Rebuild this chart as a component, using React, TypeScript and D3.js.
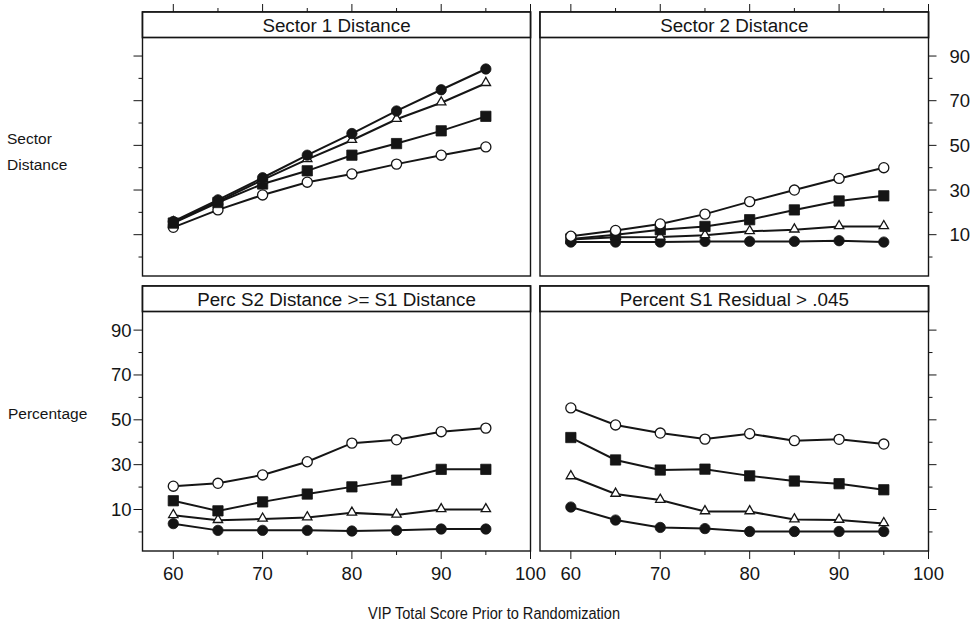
import * as d3 from 'd3'

const scores = [60, 65, 70, 75, 80, 85, 90, 95]

// Sector 1 Distance
const s1Dot = [15.9, 25.6, 35.5, 45.6, 55.3, 65.4, 74.9, 84.2]
const s1Tri = [15.5, 24.8, 34.5, 43.7, 52.3, 61.7, 69.1, 77.8]
const s1Square = [15.2, 24.4, 32.7, 38.6, 45.6, 50.8, 56.5, 63.0]
const s1Ring = [13.3, 21.1, 27.8, 33.5, 37.2, 41.6, 45.6, 49.3]

// Sector 2 Distance
const s2Dot = [6.7, 6.7, 6.7, 7.0, 7.0, 7.0, 7.3, 6.7]
const s2Tri = [7.8, 8.9, 9.0, 9.7, 11.5, 12.2, 13.7, 13.7]
const s2Square = [8.1, 10.0, 12.2, 13.7, 16.7, 21.1, 25.1, 27.4]
const s2Ring = [9.3, 11.9, 14.8, 19.2, 24.8, 30.0, 35.2, 40.0]

// Perc S2 Distance >= S1 Distance
const percDot = [3.7, 0.7, 0.7, 0.7, 0.4, 0.7, 1.3, 1.3]
const percTri = [7.4, 5.2, 5.8, 6.4, 8.5, 7.6, 10.0, 10.0]
const percSquare = [13.9, 9.4, 13.4, 16.9, 20.1, 23.1, 27.9, 27.9]
const percRing = [20.4, 21.7, 25.4, 31.3, 39.6, 41.1, 44.7, 46.3]

// Percent S1 Residual > .045
const residDot = [11.1, 5.3, 2.0, 1.5, 0.2, 0.2, 0.2, 0.2]
const residTri = [24.7, 16.9, 14.2, 9.1, 9.1, 5.5, 5.3, 3.8]
const residSquare = [42.1, 32.1, 27.6, 28.0, 25.0, 22.7, 21.5, 18.8]
const residRing = [55.3, 47.7, 44.1, 41.4, 43.8, 40.7, 41.3, 39.2]

const titles = [
  'Sector 1 Distance',
  'Sector 2 Distance',
  'Perc S2 Distance >= S1 Distance',
  'Percent S1 Residual > .045'
]

const xMajor = [60, 70, 80, 90, 100]
const xMinor = [65, 75, 85, 95]
const yMajor = [10, 30, 50, 70, 90]
const yMinor = [0, 20, 40, 60, 80]

const FONT = '"Liberation Sans", Arial, Helvetica, sans-serif'
const INK = '#151515'

// panel frame positions
const COLS = [[142.5, 530.5], [540, 928.5]]
const ROWS = [
  { top: 12, strip: 37.5, bottom: 276 },
  { top: 286, strip: 311.5, bottom: 551 }
]

type Marker = 'dot' | 'tri' | 'square' | 'ring'

const panelData: { values: number[]; marker: Marker }[][] = [
  [
    { values: s1Ring, marker: 'ring' },
    { values: s1Square, marker: 'square' },
    { values: s1Tri, marker: 'tri' },
    { values: s1Dot, marker: 'dot' }
  ],
  [
    { values: s2Dot, marker: 'dot' },
    { values: s2Tri, marker: 'tri' },
    { values: s2Square, marker: 'square' },
    { values: s2Ring, marker: 'ring' }
  ],
  [
    { values: percDot, marker: 'dot' },
    { values: percTri, marker: 'tri' },
    { values: percSquare, marker: 'square' },
    { values: percRing, marker: 'ring' }
  ],
  [
    { values: residDot, marker: 'dot' },
    { values: residTri, marker: 'tri' },
    { values: residSquare, marker: 'square' },
    { values: residRing, marker: 'ring' }
  ]
]

const symbolPath = {
  dot: d3.symbol(d3.symbolCircle, 84)(),
  ring: d3.symbol(d3.symbolCircle, 80)(),
  square: d3.symbol(d3.symbolSquare, 106)(),
  tri: d3.symbol(d3.symbolTriangle, 38)()
}

function Panel({ idx }: { idx: number }) {
  const col = idx % 2
  const row = Math.floor(idx / 2)
  const [x0, x1] = COLS[col]
  const { top, strip, bottom } = ROWS[row]

  const x = d3.scaleLinear().domain([56.55, 100]).range([x0, x1])
  const y = d3.scaleLinear().domain([-8.5, 98.3]).range([bottom, strip])
  const line = d3.line<number>()
    .x((_, i) => x(scores[i]))
    .y(d => y(d))

  const major = 8
  const minor = 4

  return (
    <g>
      {/* top ticks (top row) */}
      {row === 0 && xMajor.map(t => (
        <line key={`tM${t}`} x1={x(t)} x2={x(t)} y1={top} y2={top - major} stroke={INK} strokeWidth={1} />
      ))}
      {row === 0 && xMinor.map(t => (
        <line key={`tm${t}`} x1={x(t)} x2={x(t)} y1={top} y2={top - minor} stroke={INK} strokeWidth={1} />
      ))}

      {/* bottom ticks + labels (bottom row) */}
      {row === 1 && xMajor.map(t => (
        <g key={`bM${t}`}>
          <line x1={x(t)} x2={x(t)} y1={bottom} y2={bottom + major} stroke={INK} strokeWidth={1} />
          <text x={x(t)} y={bottom + 29} textAnchor="middle" fontSize={18.5} fontFamily={FONT} fill={INK}>{t}</text>
        </g>
      ))}
      {row === 1 && xMinor.map(t => (
        <line key={`bm${t}`} x1={x(t)} x2={x(t)} y1={bottom} y2={bottom + minor} stroke={INK} strokeWidth={1} />
      ))}

      {/* left ticks (left column), labels only on bottom row */}
      {col === 0 && yMajor.map(t => (
        <g key={`lM${t}`}>
          <line x1={x0} x2={x0 - 9} y1={y(t)} y2={y(t)} stroke={INK} strokeWidth={1} />
          {row === 1 && (
            <text x={x0 - 11} y={y(t) + 6.5} textAnchor="end" fontSize={18.5} fontFamily={FONT} fill={INK}>{t}</text>
          )}
        </g>
      ))}
      {col === 0 && yMinor.map(t => (
        <line key={`lm${t}`} x1={x0} x2={x0 - minor} y1={y(t)} y2={y(t)} stroke={INK} strokeWidth={1} />
      ))}

      {/* right ticks (right column), labels only on top row */}
      {col === 1 && yMajor.map(t => (
        <g key={`rM${t}`}>
          <line x1={x1} x2={x1 + major} y1={y(t)} y2={y(t)} stroke={INK} strokeWidth={1} />
          {row === 0 && (
            <text x={x1 + 21} y={y(t) + 6.5} textAnchor="start" fontSize={18.5} fontFamily={FONT} fill={INK}>{t}</text>
          )}
        </g>
      ))}
      {col === 1 && yMinor.map(t => (
        <line key={`rm${t}`} x1={x1} x2={x1 + minor} y1={y(t)} y2={y(t)} stroke={INK} strokeWidth={1} />
      ))}

      {/* frame and strip */}
      <rect x={x0} y={top} width={x1 - x0} height={bottom - top} fill="white" stroke={INK} strokeWidth={1.4} />
      <rect x={x0} y={top} width={x1 - x0} height={strip - top} fill="white" stroke={INK} strokeWidth={1.7} />
      <text x={(x0 + x1) / 2} y={top + 19.5} textAnchor="middle" fontSize={18.8} fontFamily={FONT} fill={INK}>
        {titles[idx]}
      </text>

      {/* series */}
      {panelData[idx].map((s, si) => (
        <g key={si}>
          <path d={line(s.values) || ''} fill="none" stroke={INK} strokeWidth={2} />
          {s.values.map((v, i) => {
            const open = s.marker === 'ring' || s.marker === 'tri'
            const dy = s.marker === 'tri' ? -0.5 : 0
            return (
              <path
                key={i}
                d={symbolPath[s.marker] || ''}
                transform={`translate(${x(scores[i])},${y(v) + dy})`}
                fill={open ? 'white' : INK}
                stroke={INK}
                strokeWidth={open ? 1.3 : 0.8}
              />
            )
          })}
        </g>
      ))}
    </g>
  )
}

export default function App() {
  return (
    <svg
      width={978}
      height={627}
      style={{ position: 'absolute', left: 0, top: 0, background: 'white' }}
    >
      <rect width={978} height={627} fill="white" />
      {[0, 1, 2, 3].map(i => <Panel key={i} idx={i} />)}

      <text x={7} y={144} fontSize={15.5} fontFamily={FONT} fill={INK}>Sector</text>
      <text x={7} y={170} fontSize={15.5} fontFamily={FONT} fill={INK}>Distance</text>
      <text x={8} y={419} fontSize={15.5} fontFamily={FONT} fill={INK}>Percentage</text>

      <text
        x={368}
        y={619}
        fontSize={16}
        textLength={252}
        lengthAdjust="spacingAndGlyphs"
        fontFamily={FONT}
        fill={INK}
      >
        VIP Total Score Prior to Randomization
      </text>
    </svg>
  )
}
